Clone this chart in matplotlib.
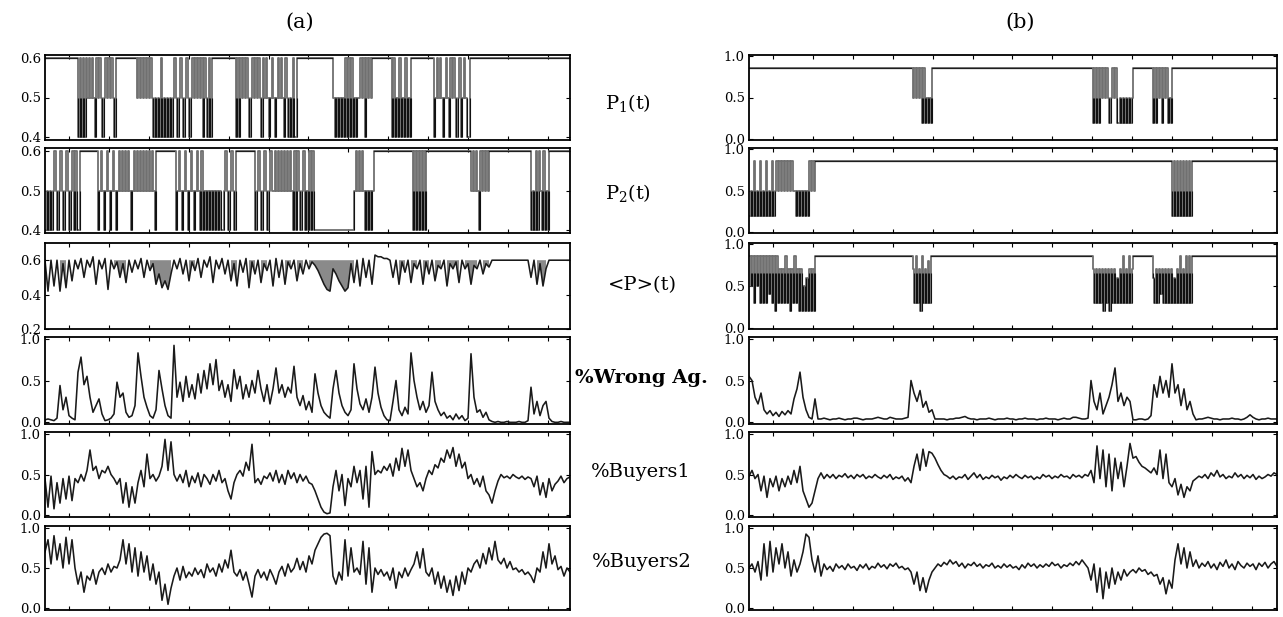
import numpy as np
import matplotlib.pyplot as plt

plt.rcParams['font.family'] = ['DejaVu Serif']
plt.rcParams['mathtext.fontset'] = 'dejavuserif'

# time axis: number of steps in each run
N_A = 350
N_B = 352

# ---- price series: quiet level + active blocks (start step, level codes) ----
LEVELS_A = {'6': 0.6, '5': 0.5, '4': 0.4}
LEVELS_B = {'9': 0.85, '8': 0.8, '7': 0.7, '6': 0.6, '5': 0.5,
            '4': 0.4, '3': 0.3, '2': 0.2}

p1_a_flat = 0.6
p1_a_blocks = [
    (22, "4646465656546565456565654"),
    (61, "56565656565" "4545464545454" "5654565456545" "6565656465" "4646"),
    (127, "4646" "565654565656" "546565456545" "656546545" "4644"),
    (192, "5454545" "464646" "4545" "5656465656"),
    (231, "4645464546454"),
    (259, "456565456546565456456544"),
]

p2_a_flat = 0.6
p2_a_blocks = [
    (0, "4545456545654565456" "4644"),
    (35, "4565456545654565" "6" "565654565656" "5656565654"),
    (87, "45654565456545654" "6" "4545454545454" "4565456546"),
    (140, "456545654565" "5656565656565" "46465456454646"),
    (179, "444444444444444444444444444"),
    (206, "5656565454545"),
    (245, "4646464646"),
    (284, "5656546565656"),
    (323, "6454646546454"),
]

p1_b_flat = 0.85
p1_b_blocks = [
    (109, "5959592925252"),
    (229, "292929" "59595259592" "2525252525"),
    (269, "2929592959252"),
]

p2_b_flat = 0.85
p2_b_blocks = [
    (0, "252925292529252925" "959595959595" "5252525252" "9595"),
    (282, "29292929292929"),
]

pm_b_flat = 0.85
pm_b_blocks = [
    (0, "95939593" "939394939293" "737393727393" "727252627272"),
    (109, "7393729373839"),
    (229, "7373737273" "7273736373" "9373937"),
    (269, "6373747373" "7373637393" "7393939"),
]

# ---- sampled series (hundredths), evenly spaced over the run ----
pm_a = [60, 42, 60, 45, 60, 42, 58, 44, 60, 48, 60, 55, 61, 50, 60, 56, 62, 46, 60, 55,
        61, 43, 60, 55, 59, 50, 58, 47, 60, 53, 60, 55, 61, 50, 60, 54, 58, 46, 52, 44,
        48, 43, 52, 60, 55, 61, 52, 60, 48, 59, 54, 61, 50, 60, 56, 62, 47, 60, 55, 61,
        52, 60, 48, 58, 45, 60, 53, 61, 44, 59, 52, 60, 47, 58, 54, 60, 45, 61, 50, 60,
        46, 59, 55, 60, 48, 58, 52, 60, 55, 59, 57, 54, 50, 46, 43, 42, 55, 52, 48, 45,
        42, 44, 58, 47, 60, 45, 61, 50, 60, 46, 63, 62, 62, 61, 61, 60, 50, 60, 46, 59,
        53, 60, 47, 58, 55, 60, 46, 59, 52, 60, 48, 57, 55, 60, 45, 58, 55, 59, 47, 60,
        55, 58, 46, 57, 55, 60, 52, 58, 56, 60, 60, 60, 60, 60, 60, 60, 60, 60, 60, 60,
        60, 60, 50, 60, 46, 58, 45, 55, 60, 60, 60, 60, 60, 60, 60, 60]

wrong_a = [3, 4, 3, 2, 5, 44, 15, 30, 8, 5, 3, 60, 78, 45, 55, 30, 12, 20, 28, 10,
           2, 3, 5, 10, 48, 30, 35, 12, 6, 8, 20, 83, 55, 30, 18, 8, 5, 15, 62, 40,
           20, 8, 5, 92, 30, 48, 25, 55, 30, 45, 28, 58, 35, 62, 40, 70, 45, 75, 38, 50,
           30, 45, 25, 63, 40, 55, 28, 45, 30, 50, 35, 62, 40, 25, 45, 22, 40, 65, 35, 45,
           30, 42, 35, 67, 30, 20, 32, 15, 25, 12, 58, 35, 20, 12, 8, 5, 40, 62, 35, 20,
           12, 8, 15, 70, 40, 22, 15, 28, 12, 30, 66, 35, 18, 8, 3, 2, 25, 50, 15, 8,
           18, 10, 83, 50, 30, 15, 25, 12, 20, 60, 25, 15, 8, 12, 5, 8, 3, 10, 4, 8,
           2, 5, 82, 30, 12, 15, 6, 12, 3, 1, 0, 1, 0, 0, 1, 0, 0, 0, 1, 0,
           0, 2, 42, 10, 25, 8, 20, 25, 5, 1, 0, 0, 1, 0, 0, 0]

buy1_a = [45, 10, 48, 8, 40, 15, 45, 20, 48, 18, 45, 40, 50, 42, 55, 80, 55, 60, 45, 55,
          52, 60, 50, 45, 38, 45, 15, 40, 10, 35, 15, 40, 55, 35, 75, 45, 50, 42, 48, 60,
          93, 55, 90, 50, 42, 50, 40, 55, 35, 48, 40, 52, 35, 50, 45, 38, 50, 42, 55, 40,
          45, 30, 20, 40, 50, 55, 48, 65, 55, 87, 40, 45, 38, 48, 45, 52, 42, 55, 40, 50,
          38, 55, 45, 52, 40, 50, 42, 48, 40, 38, 30, 20, 10, 4, 2, 3, 35, 55, 30, 50,
          12, 45, 35, 60, 40, 55, 20, 60, 10, 78, 50, 55, 52, 60, 55, 63, 48, 70, 55, 82,
          60, 80, 55, 45, 35, 40, 30, 45, 55, 50, 62, 58, 70, 65, 80, 70, 83, 60, 75, 58,
          65, 45, 50, 38, 45, 35, 48, 30, 25, 15, 30, 42, 50, 46, 48, 45, 50, 47, 45, 48,
          44, 47, 45, 35, 48, 25, 40, 22, 45, 30, 38, 42, 48, 40, 45, 47]

buy2_a = [70, 85, 55, 90, 60, 80, 50, 88, 55, 85, 50, 30, 45, 20, 40, 35, 48, 30, 45, 50,
          42, 55, 45, 52, 50, 60, 85, 55, 80, 45, 75, 40, 70, 45, 65, 35, 55, 30, 45, 10,
          30, 5, 25, 40, 50, 35, 52, 38, 45, 40, 50, 42, 48, 38, 55, 45, 50, 40, 55, 45,
          60, 50, 72, 45, 40, 48, 35, 45, 30, 14, 40, 48, 38, 45, 35, 48, 40, 30, 45, 52,
          40, 55, 45, 50, 62, 48, 58, 45, 65, 55, 72, 80, 88, 92, 93, 90, 40, 30, 45, 35,
          85, 40, 75, 45, 50, 42, 83, 30, 75, 20, 50, 42, 48, 40, 45, 35, 50, 25, 45, 38,
          50, 40, 48, 55, 70, 50, 74, 45, 40, 50, 30, 45, 25, 40, 20, 35, 16, 40, 22, 45,
          30, 50, 45, 55, 60, 50, 68, 55, 75, 60, 83, 60, 55, 62, 50, 58, 48, 50, 45, 48,
          42, 45, 40, 32, 50, 45, 70, 50, 80, 55, 65, 48, 52, 40, 50, 45]

wrong_b = [55, 50, 30, 22, 35, 15, 10, 14, 8, 12, 7, 13, 9, 14, 10, 28, 40, 60, 30, 15,
           6, 4, 28, 4, 4, 5, 4, 3, 4, 4, 5, 4, 3, 4, 4, 5, 5, 4, 3, 4,
           4, 4, 5, 6, 5, 4, 4, 6, 5, 4, 4, 4, 5, 6, 50, 35, 25, 38, 18, 25,
           12, 15, 4, 4, 4, 4, 3, 4, 4, 5, 5, 6, 7, 5, 4, 4, 3, 4, 4, 4,
           5, 4, 3, 4, 4, 4, 5, 4, 4, 3, 4, 4, 5, 4, 4, 4, 3, 4, 4, 5,
           4, 4, 4, 3, 4, 5, 4, 4, 6, 6, 5, 4, 4, 5, 50, 25, 15, 35, 10, 20,
           30, 45, 65, 25, 35, 20, 30, 25, 3, 3, 4, 4, 3, 4, 8, 45, 30, 55, 35, 50,
           30, 70, 35, 45, 20, 40, 15, 25, 10, 3, 4, 4, 5, 6, 5, 4, 4, 3, 4, 4,
           4, 5, 4, 4, 3, 4, 6, 9, 6, 4, 3, 4, 4, 5, 4, 4, 4]

buy1_b = [48, 55, 45, 50, 30, 48, 22, 45, 35, 48, 30, 45, 35, 48, 38, 55, 40, 60, 30, 20,
          10, 15, 30, 45, 52, 45, 50, 46, 50, 45, 49, 47, 51, 46, 49, 45, 50, 47, 50, 45,
          48, 46, 50, 47, 45, 49, 46, 50, 44, 47, 45, 48, 42, 46, 40, 60, 75, 55, 81, 60,
          78, 76, 70, 62, 55, 50, 48, 45, 48, 44, 47, 46, 50, 44, 48, 52, 46, 50, 44, 47,
          45, 49, 46, 48, 43, 47, 45, 49, 46, 50, 47, 45, 49, 46, 48, 44, 47, 45, 50, 47,
          49, 45, 48, 46, 50, 47, 48, 45, 50, 47, 49, 46, 50, 48, 55, 40, 85, 45, 80, 35,
          75, 30, 70, 45, 65, 35, 60, 88, 70, 72, 65, 60, 58, 55, 52, 58, 50, 80, 45, 75,
          40, 35, 45, 25, 38, 22, 35, 30, 42, 45, 48, 46, 50, 45, 52, 48, 55, 47, 50, 45,
          48, 46, 52, 47, 50, 45, 49, 46, 50, 44, 48, 45, 47, 50, 48, 52, 50]

buy2_b = [50, 55, 45, 58, 35, 80, 40, 83, 45, 75, 55, 80, 50, 70, 40, 60, 45, 55, 70, 92,
          88, 60, 45, 65, 40, 55, 48, 52, 46, 55, 50, 53, 48, 55, 50, 52, 47, 54, 50, 55,
          48, 52, 50, 56, 51, 54, 49, 55, 52, 56, 50, 52, 48, 50, 45, 30, 45, 22, 38, 20,
          35, 45, 50, 55, 52, 57, 54, 60, 55, 58, 52, 56, 50, 55, 53, 57, 52, 55, 50, 54,
          52, 56, 50, 53, 50, 55, 51, 54, 50, 52, 48, 54, 50, 56, 52, 55, 50, 54, 51, 55,
          52, 57, 53, 55, 50, 54, 52, 56, 53, 58, 54, 60, 55, 50, 35, 55, 20, 50, 12, 45,
          25, 50, 30, 45, 35, 48, 40, 45, 48, 44, 50, 46, 48, 42, 45, 40, 42, 30, 38, 18,
          35, 25, 60, 80, 55, 75, 50, 70, 52, 60, 50, 56, 52, 58, 50, 55, 48, 57, 52, 60,
          50, 55, 48, 58, 53, 50, 56, 52, 55, 48, 56, 52, 57, 50, 55, 58, 52]


def build(flat, blocks, levels, n):
    v = np.full(n + 1, flat)
    for start, code in blocks:
        v[start:start + len(code)] = [levels[c] for c in code]
    return v


# ---- layout (pixels of the 1283x617 reference) ----
W, H = 1283, 617
row_top = [55, 148, 243, 337, 432, 526]
row_bot = [140, 233, 329, 424, 517, 610]
col_x = [(45, 525), (749, 528)]

fig = plt.figure(figsize=(W / 100, H / 100), dpi=100)


def make_ax(col, row):
    x0, w = col_x[col]
    return fig.add_axes([x0 / W, 1 - row_bot[row] / H, w / W,
                         (row_bot[row] - row_top[row]) / H])


def style(ax, n, ylim, yticks, ylabels):
    ax.set_xlim(0, n)
    ax.set_ylim(*ylim)
    ax.set_xticks(np.arange(16, n, 26.6))
    ax.set_xticklabels([])
    ax.set_yticks(yticks)
    ax.set_yticklabels(ylabels, fontsize=9.5)
    ax.tick_params(direction='in', length=3, width=0.8, top=True, right=True, pad=3)
    for s in ax.spines.values():
        s.set_linewidth(1.3)


def price(ax, n, flat, blocks, levels, mid):
    t = np.arange(n + 1)
    v = build(flat, blocks, levels, n)
    # fast switching prints as grey; jumps below `mid` print as black stripes
    ax.step(t, v, where='post', color='#707070', lw=1.3)
    ch = np.nonzero(np.diff(v))[0] + 1
    lo = np.minimum(v[ch - 1], v[ch])
    hi = np.minimum(np.maximum(v[ch - 1], v[ch]), mid)
    keep = lo < mid
    ax.vlines(t[ch][keep], lo[keep], hi[keep], color='#111111', lw=0.8)
    ax.plot(t, np.where(v == flat, flat, np.nan), color='#1e1e1e', lw=0.9)


ink = '#1a1a1a'
noisy_kw = dict(color=ink, lw=1.15)

# (a) column
ax = make_ax(0, 0)
price(ax, N_A, p1_a_flat, p1_a_blocks, LEVELS_A, 0.5)
style(ax, N_A, (0.392, 0.608), [0.4, 0.5, 0.6], ['0.4', '0.5', '0.6'])

ax = make_ax(0, 1)
price(ax, N_A, p2_a_flat, p2_a_blocks, LEVELS_A, 0.5)
style(ax, N_A, (0.392, 0.608), [0.4, 0.5, 0.6], ['0.4', '0.5', '0.6'])

ax = make_ax(0, 2)
t = np.linspace(0, N_A, len(pm_a))
v = np.array(pm_a) / 100
ax.fill_between(t, v, 0.6, where=v < 0.6, color='#8a8a8a', lw=0)
ax.plot(t, v, **noisy_kw)
style(ax, N_A, (0.2, 0.7), [0.2, 0.4, 0.6], ['0.2', '0.4', '0.6'])

for row, series in [(3, wrong_a), (4, buy1_a), (5, buy2_a)]:
    ax = make_ax(0, row)
    ax.plot(np.linspace(0, N_A, len(series)), np.array(series) / 100, **noisy_kw)
    style(ax, N_A, (-0.02, 1.02), [0.0, 0.5, 1.0], ['0.0', '0.5', '1.0'])

# (b) column
for row, flat, blocks, mid in [(0, p1_b_flat, p1_b_blocks, 0.5),
                               (1, p2_b_flat, p2_b_blocks, 0.5),
                               (2, pm_b_flat, pm_b_blocks, 0.65)]:
    ax = make_ax(1, row)
    price(ax, N_B, flat, blocks, LEVELS_B, mid)
    style(ax, N_B, (-0.01, 1.01), [0.0, 0.5, 1.0], ['0.0', '0.5', '1.0'])

for row, series in [(3, wrong_b), (4, buy1_b), (5, buy2_b)]:
    ax = make_ax(1, row)
    ax.plot(np.linspace(0, N_B, len(series)), np.array(series) / 100, **noisy_kw)
    style(ax, N_B, (-0.02, 1.02), [0.0, 0.5, 1.0], ['0.0', '0.5', '1.0'])

# panel titles and row labels
fig.text(300 / W, 1 - 22 / H, '(a)', ha='center', va='center', fontsize=15)
fig.text(1020 / W, 1 - 22 / H, '(b)', ha='center', va='center', fontsize=15)

row_labels = [r'P$_1$(t)', r'P$_2$(t)', '<P>(t)', '%Wrong Ag.', '%Buyers1', '%Buyers2']
label_x = [628, 628, 642, 641, 641, 642]
label_y = [103, 193, 285, 378, 472, 562]
label_w = ['normal', 'normal', 'normal', 'bold', 'normal', 'normal']
for txt, lx, ly, fw in zip(row_labels, label_x, label_y, label_w):
    fig.text(lx / W, 1 - ly / H, txt, ha='center', va='center', fontsize=14,
             fontweight=fw)

fig.savefig('out.png', dpi=100)
